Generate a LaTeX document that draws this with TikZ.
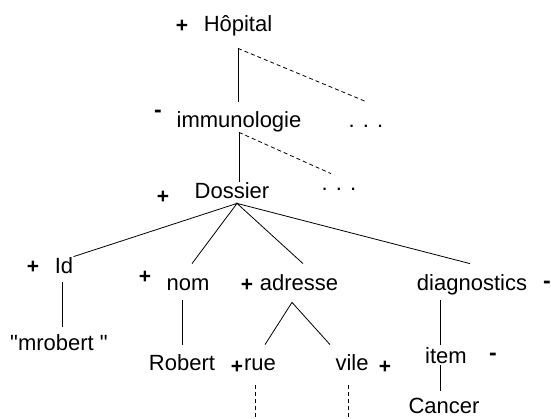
\documentclass[tikz,border=0pt]{standalone}
\usepackage{fontspec}
\newfontfamily\arial{Liberation Sans}
\begin{document}
\begin{tikzpicture}[x=1pt,y=-1pt,line width=.8pt,
    lbl/.style={font=\arial\fontsize{22}{26}\selectfont,anchor=base,inner sep=0pt,text height=16pt,text depth=5pt},
    sgn/.style={font=\arial\fontsize{21}{24}\selectfont\bfseries,inner sep=0pt},
    neg/.style={font=\arial\fontsize{23}{26}\selectfont\bfseries,inner sep=0pt},
    dsh/.style={dash pattern=on 4pt off 3pt}]
    \useasboundingbox (0,0) rectangle (551,418);
    % labels
    \node [lbl] (hopital) at (238,31) {Hôpital};
    \node [lbl] (immuno) at (239,127) {immunologie};
    \node [lbl] (dotsA) at (366,127) {. . .};
    \node [lbl] (dossier) at (232,198) {Dossier};
    \node [lbl] (dotsB) at (339,190) {. . .};
    \node [lbl] (id) at (64,273) {Id};
    \node [lbl] (mrobert) at (59,350) {"mrobert "};
    \node [lbl] (nom) at (188,290) {nom};
    \node [lbl] (robert) at (182,370) {Robert};
    \node [lbl] (adresse) at (299,290) {adresse};
    \node [lbl] (rue) at (260,370) {rue};
    \node [lbl] (vile) at (352,370) {vile};
    \node [lbl] (diag) at (472,290) {diagnostics};
    \node [lbl] (item) at (446,363) {item};
    \node [lbl,text depth=0pt] (cancer) at (444,413) {Cancer};
    \coordinate (itemstem) at ([xshift=-6pt]item.north);
    % signs
    \node [sgn] (hopitalsgn) at (182,26) {+};
    \node [neg] (immunosgn) at (158,114) {-};
    \node [sgn] (dossiersgn) at (163,197) {+};
    \node [sgn] (idsgn) at (33,267) {+};
    \node [sgn] (nomsgn) at (145,277) {+};
    \node [sgn] (adressesgn) at (247,285) {+};
    \node [neg] (diagsgn) at (547,285) {-};
    \node [sgn] (ruesgn) at (237,367) {+};
    \node [sgn] (vilesgn) at (385,367) {+};
    \node [neg] (itemsgn) at (493,357) {-};
    % tree
    \draw [shorten <=12pt,shorten >=9pt] (hopital.south) -- (hopital.south |- immuno.north);
    \draw [dsh] ([yshift=-12pt]hopital.south) -- ([yshift=9pt]dotsA.north);
    \draw (immuno.south) -- (immuno.south |- dossier.north);
    \draw [dsh] (immuno.south) -- ([xshift=-8pt]dotsB.north);
    \draw (id.north east) -- ([xshift=5pt]dossier.south) -- ([shift={(4pt,10pt)}]nom.north);
    \draw ([shift={(4pt,10pt)}]adresse.north) -- ([xshift=5pt]dossier.south) -- ([shift={(-2pt,10pt)}]diag.north);
    \draw ([shift={(-2pt,-4pt)}]id.south) -- ([shift={(3pt,7pt)}]mrobert.north);
    \draw ([shift={(-6pt,-5pt)}]nom.south) -- ([yshift=9pt]robert.north);
    \draw ([shift={(5pt,9pt)}]rue.north) -- ([shift={(-7pt,-7pt)}]adresse.south) -- ([shift={(-22pt,9pt)}]vile.north);
    \draw [shorten <=5pt,shorten >=2pt] (diag.south -| itemstem) -- (itemstem);
    \draw [shorten <=-3pt,shorten >=6pt] (item.south -| itemstem) -- (cancer.north -| itemstem);
    \draw [dsh] ([shift={(-5pt,-10pt)}]rue.south) -- ++(0,33);
    \draw [dsh] ([shift={(-4pt,-10pt)}]vile.south) -- ++(0,33);
\end{tikzpicture}
\end{document}
